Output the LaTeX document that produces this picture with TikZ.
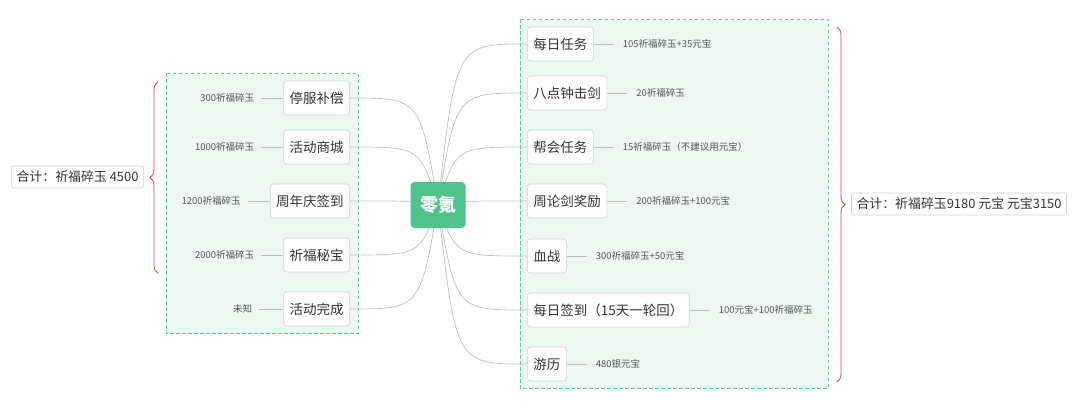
\documentclass[tikz,border=0pt]{standalone}
\usepackage{fontspec}
\setmainfont{Noto Sans CJK SC}
\usetikzlibrary{calc,decorations.pathreplacing}
\definecolor{textdark}{HTML}{333333}
\definecolor{textgray}{HTML}{555555}
\definecolor{nodeborder}{HTML}{D2D2D2}
\definecolor{linegray}{HTML}{BDBDBD}
\definecolor{boxfill}{HTML}{EDF8F2}
\definecolor{boxdash}{HTML}{5CC99C}
\definecolor{bracecol}{HTML}{C44A5A}
\definecolor{rootfill}{HTML}{4FC38B}
\pgfdeclarelayer{bg}
\pgfsetlayers{bg,main}
\tikzset{
  topic/.style={draw=nodeborder, fill=white, rounded corners=3pt, font=\fontsize{13.5}{16}\selectfont, text=textdark, inner xsep=6pt, minimum height=34pt, line width=0.6pt},
  rootnode/.style={fill=rootfill, rounded corners=4pt, font=\fontsize{18}{20}\selectfont\bfseries, text=white, minimum width=55pt, minimum height=46pt, inner sep=0pt},
  lbl/.style={font=\fontsize{9.5}{11}\selectfont, text=textgray, inner ysep=0pt},
  lblR/.style={lbl, anchor=west, inner xsep=9pt},
  lblL/.style={lbl, anchor=east, inner xsep=7pt},
  link/.style={draw=linegray, line width=0.7pt},
  groupbox/.style={fill=boxfill, draw=boxdash, line width=1pt, dash pattern=on 3.5pt off 2.5pt},
  sumnode/.style={draw=nodeborder, fill=white, rounded corners=2pt, font=\fontsize{12.9}{14}\selectfont, text=textdark, inner xsep=5pt, minimum height=22pt, line width=0.6pt},
  bracestyle/.style={draw=bracecol, line width=0.8pt, decorate, decoration={brace, amplitude=8pt}},
}
\begin{document}
\begin{tikzpicture}[x=1pt,y=-1pt]
\useasboundingbox (0,0) rectangle (1080,407);

% root
\node[rootnode] (root) at (438,205) {零氪};

% left topics
\node[topic, anchor=east] (L1) at (350,98) {停服补偿};
\node[topic, anchor=east] (L2) at (350,147) {活动商城};
\node[topic, anchor=east] (L3) at (350,201) {周年庆签到};
\node[topic, anchor=east] (L4) at (350,255) {祈福秘宝};
\node[topic, anchor=east] (L5) at (350,309) {活动完成};

\node[lblL] (a1) at ([xshift=-22pt]L1.west) {300祈福碎玉};
\node[lblL] (a2) at ([xshift=-22pt]L2.west) {1000祈福碎玉};
\node[lblL] (a3) at ([xshift=-22pt]L3.west) {1200祈福碎玉};
\node[lblL] (a4) at ([xshift=-22pt]L4.west) {2000祈福碎玉};
\node[lblL] (a5) at ([xshift=-24pt]L5.west) {未知};

% right topics
\node[topic, anchor=west] (R1) at (527,44) {每日任务};
\node[topic, anchor=west] (R2) at (527,93) {八点钟击剑};
\node[topic, anchor=west] (R3) at (527,147) {帮会任务};
\node[topic, anchor=west] (R4) at (527,201) {周论剑奖励};
\node[topic, anchor=west] (R5) at (527,256) {血战};
\node[topic, anchor=west] (R6) at (527,310) {每日签到（15天一轮回）};
\node[topic, anchor=west] (R7) at (527,364) {游历};

\node[lblR] (b1) at ([xshift=20pt]R1.east) {105祈福碎玉+35元宝};
\node[lblR] (b2) at ([xshift=20pt]R2.east) {20祈福碎玉};
\node[lblR] (b3) at ([xshift=20pt]R3.east) {15祈福碎玉（不建议用元宝）};
\node[lblR] (b4) at ([xshift=20pt]R4.east) {200祈福碎玉+100元宝};
\node[lblR] (b5) at ([xshift=20pt]R5.east) {300祈福碎玉+50元宝};
\node[lblR] (b6) at ([xshift=20pt]R6.east) {100元宝+100祈福碎玉};
\node[lblR] (b7) at ([xshift=20pt]R7.east) {480银元宝};

% summaries
\node[sumnode] (sumL) at (77.5,177) {合计：祈福碎玉 4500};
\node[sumnode] (sumR) at (959,204) {合计：祈福碎玉9180 元宝 元宝3150};

\coordinate (bLtop) at (158,82);
\coordinate (bLbot) at (158,273);
\coordinate (bRtop) at (837,27);
\coordinate (bRbot) at (837,382);
\draw[bracestyle] (bLbot) -- (bLtop);
\draw[bracestyle] (bRtop) -- (bRbot);

\begin{pgfonlayer}{bg}
  \draw[groupbox] (166,73) rectangle (358,333);
  \draw[groupbox] (520,19) rectangle (828,388);
  \foreach \n in {L1,L2,L3,L4,L5}{
    \draw[link] (root.center) .. controls ($(root.center |- \n.east)+(-18,0)$) .. (\n.east);
  }
  \foreach \n in {R1,R2,R3,R4,R5,R6,R7}{
    \draw[link] (root.center) .. controls ($(root.center |- \n.west)+(18,0)$) .. (\n.west);
  }
  \foreach \n/\m in {a1/L1,a2/L2,a3/L3,a4/L4,a5/L5}{
    \draw[link] (\n.east) -- (\m.west);
  }
  \foreach \n/\m in {b1/R1,b2/R2,b3/R3,b4/R4,b5/R5,b6/R6,b7/R7}{
    \draw[link] (\m.east) -- (\n.west);
  }
\end{pgfonlayer}
\end{tikzpicture}
\end{document}
